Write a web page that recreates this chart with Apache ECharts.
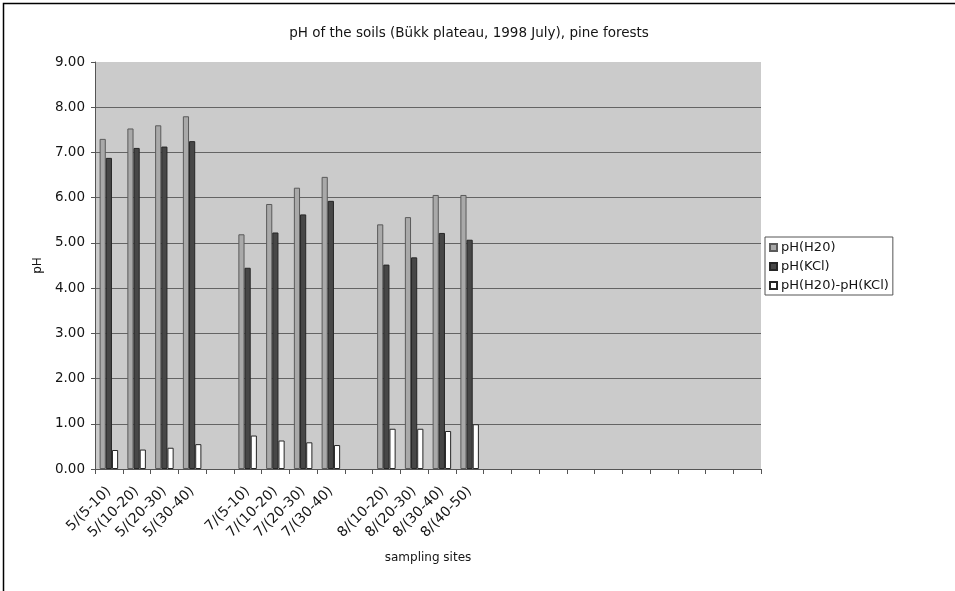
<!DOCTYPE html>
<html>
<head>
<meta charset="utf-8">
<script src="https://cdn.jsdelivr.net/npm/echarts@6/dist/echarts.min.js"></script>
<style>
  html, body { margin: 0; padding: 0; background: #fff; }
  #chart { width: 955px; height: 591px; }
</style>
</head>
<body>
<div id="chart"></div>
<script>
// Sampling sites (site / depth in cm); blank entries are spacer slots on the axis
const categories = [
  '5/(5-10)', '5/(10-20)', '5/(20-30)', '5/(30-40)', '',
  '7/(5-10)', '7/(10-20)', '7/(20-30)', '7/(30-40)', '',
  '8/(10-20)', '8/(20-30)', '8/(30-40)', '8/(40-50)',
  '', '', '', '', '', '', '', '', '', ''
];

// pH measured in water
const phH2O = [7.30, 7.53, 7.60, 7.80, null, 5.19, 5.86, 6.22, 6.46, null, 5.41, 5.57, 6.06, 6.06];
// pH measured in KCl solution
const phKCl = [6.88, 7.10, 7.13, 7.25, null, 4.45, 5.23, 5.63, 5.93, null, 4.52, 4.68, 5.22, 5.07];
// Difference pH(H2O) - pH(KCl)
const phDiff = [0.42, 0.43, 0.47, 0.55, null, 0.74, 0.63, 0.59, 0.53, null, 0.89, 0.89, 0.84, 0.99];

const seriesNames = ['pH(H20)', 'pH(KCl)', 'pH(H20)-pH(KCl)'];
const yTicks = [0, 1, 2, 3, 4, 5, 6, 7, 8, 9];

const FONT = 'DejaVu Sans';
const TEXT = '#141414';

const chart = echarts.init(document.getElementById('chart'), null, { renderer: 'canvas' });

// Grid lines: dark for every value line except the top edge of the plot
const splitColors = yTicks.map((v, i) => (i === yTicks.length - 1 ? '#cbcbcb' : '#646464'));

chart.setOption({
  backgroundColor: '#ffffff',
  animation: false,
  title: {
    text: 'pH of the soils (Bükk plateau, 1998 July), pine forests',
    left: 464,
    top: 21,
    textAlign: 'center',
    textStyle: { fontFamily: FONT, fontSize: 13.5, fontWeight: 'normal', color: TEXT }
  },
  graphic: [{
    type: 'rect',
    shape: { x: 3.5, y: 3.5, width: 2000, height: 2000 },
    style: { fill: 'none', stroke: '#000', lineWidth: 1.5 },
    silent: true
  }],
  legend: {
    orient: 'vertical',
    left: 765,
    top: 237,
    itemWidth: 7,
    itemHeight: 7,
    itemGap: 6,
    padding: [4, 4, 3, 4],
    icon: 'rect',
    borderColor: '#555',
    borderWidth: 1,
    backgroundColor: '#fff',
    textStyle: { fontFamily: FONT, fontSize: 13, color: TEXT, padding: [0, 0, 0, -1] },
    data: seriesNames
  },
  grid: {
    left: 95,
    top: 62,
    width: 666,
    height: 407,
    show: true,
    backgroundColor: '#cbcbcb',
    borderWidth: 0
  },
  xAxis: {
    type: 'category',
    data: categories,
    boundaryGap: true,
    name: 'sampling sites',
    nameLocation: 'middle',
    nameGap: 83,
    nameTextStyle: { fontFamily: FONT, fontSize: 12, color: TEXT },
    axisLine: { show: true, lineStyle: { color: '#555', width: 1 } },
    axisTick: { show: true, length: 5, lineStyle: { color: '#555' } },
    axisLabel: {
      interval: 0,
      rotate: 45,
      margin: 20,
      fontFamily: FONT,
      fontSize: 14,
      color: TEXT
    },
    splitLine: { show: false }
  },
  yAxis: {
    type: 'value',
    min: 0,
    max: 9,
    interval: 1,
    name: 'pH',
    nameLocation: 'middle',
    nameGap: 38,
    nameRotate: 90,
    nameTextStyle: { fontFamily: FONT, fontSize: 12, color: TEXT },
    axisLine: { show: true, lineStyle: { color: '#555', width: 1 } },
    axisTick: { show: true, length: 4, lineStyle: { color: '#555' } },
    axisLabel: {
      margin: 10,
      fontFamily: FONT,
      fontSize: 13.5,
      color: TEXT,
      formatter: v => v.toFixed(2)
    },
    splitLine: { show: true, lineStyle: { color: splitColors, width: 1 } }
  },
  series: [
    {
      name: seriesNames[0],
      type: 'bar',
      data: phH2O,
      barGap: '0%',
      barCategoryGap: '33.3%',
      itemStyle: { color: '#a9a9a9', borderColor: '#5a5a5a', borderWidth: 1 }
    },
    {
      name: seriesNames[1],
      type: 'bar',
      data: phKCl,
      itemStyle: { color: '#474747', borderColor: '#262626', borderWidth: 1 }
    },
    {
      name: seriesNames[2],
      type: 'bar',
      data: phDiff,
      itemStyle: { color: '#ffffff', borderColor: '#262626', borderWidth: 1 }
    }
  ]
});
</script>
</body>
</html>
